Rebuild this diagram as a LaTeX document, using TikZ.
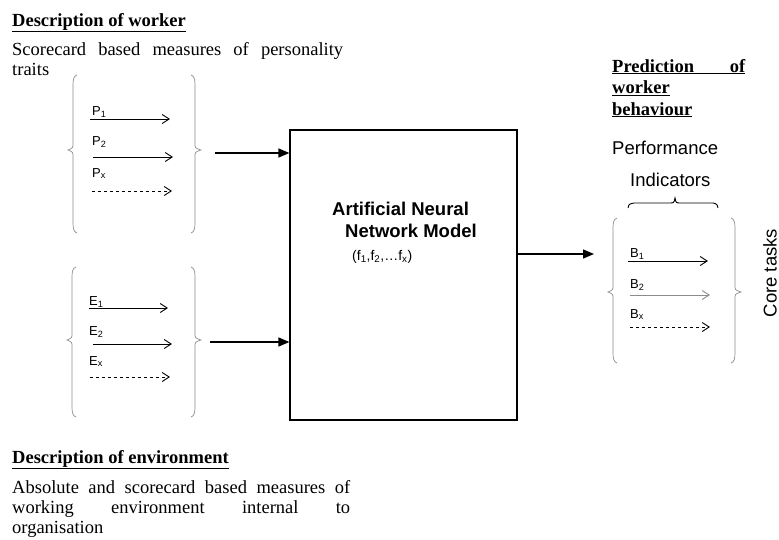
\documentclass[tikz,border=0pt]{standalone}
\usepackage{fontspec}
\setmainfont{Liberation Serif}
\setsansfont{Liberation Sans}
\usetikzlibrary{positioning}
\usetikzlibrary{arrows.meta}
\tikzset{
    every picture/.style={>=Stealth},
    head/.style={anchor=base west,inner sep=0pt,font=\fontsize{18.5}{21.5}\selectfont\bfseries},
    body/.style={anchor=base west,inner sep=0pt,align=left,font=\fontsize{18.5}{20}\selectfont},
    sans/.style={anchor=base west,inner sep=0pt,font=\fontsize{18.5}{21}\selectfont\sffamily},
    lbl/.style={anchor=base west,inner sep=0pt,font=\fontsize{13}{15}\selectfont\sffamily},
    brace/.style={draw=black!45,line width=0.7pt},
    thin arrow/.style={-{Straight Barb[length=7pt,width=9pt]},line width=0.9pt},
    big arrow/.style={-{Triangle[length=11pt,width=9pt]},line width=1.4pt},
}

\begin{document}
\begin{tikzpicture}[x=1pt,y=-1pt]
\useasboundingbox (0,0) rectangle (779,539);

\node[head] (hworker) at (12,26) {\underline{Description of worker}};
\node[body] (tworker) at (12,75) {\makebox[331pt][s]{Scorecard based measures of personality}\\traits};

\node[head] (henv) at (12,463) {\underline{Description of environment}};
\node[body] (tenv) at (12,533) {\makebox[338pt][s]{Absolute and scorecard based measures of}\\
  \makebox[338pt][s]{working environment internal to}\\organisation};

\node[head,align=left] (hpred) at (612,115) {\underline{\makebox[133pt][s]{Prediction of}}\\
  \underline{worker}\\\underline{behaviour}};
\node[sans] (perf) at (612,154) {Performance};
\node[sans] (ind) at (630,186) {Indicators};
\node[sans,anchor=center,rotate=90] (core) at (770,273) {Core tasks};

\node[draw,line width=1.2pt,minimum width=227pt,minimum height=290pt] (ann) at (403.5,275) {};
\node[sans,font=\fontsize{18.5}{21}\selectfont\sffamily\bfseries] (ann1) at (332,215) {Artificial Neural};
\node[sans,font=\fontsize{18.5}{21}\selectfont\sffamily\bfseries] (ann2) at (345,237) {Network Model};
\node[lbl,font=\fontsize{14}{16}\selectfont\sffamily] (ann3) at (352,260) {(f\textsubscript{1},f\textsubscript{2},\dots f\textsubscript{x})};

\foreach \l/\r/\t/\b/\m in {73/195/75/233/150, 72/195/267/417/340, 613/735/218/363/292}{
  \draw[brace] ({\l+4},\t) .. controls ({\l+1},{\t+1}) and (\l,{\t+4}) .. (\l,{\t+10}) -- (\l,{\m-7})
    .. controls (\l,{\m-2}) .. ({\l-5},\m) .. controls (\l,{\m+2}) .. (\l,{\m+7}) -- (\l,{\b-10})
    .. controls (\l,{\b-4}) and ({\l+1},{\b-1}) .. ({\l+4},\b);
  \draw[brace] ({\r-4},\t) .. controls ({\r-1},{\t+1}) and (\r,{\t+4}) .. (\r,{\t+10}) -- (\r,{\m-7})
    .. controls (\r,{\m-2}) .. ({\r+6},\m) .. controls (\r,{\m+2}) .. (\r,{\m+7}) -- (\r,{\b-10})
    .. controls (\r,{\b-4}) and ({\r-1},{\b-1}) .. ({\r-4},\b);
}
\draw[line width=0.9pt] (628,208) .. controls (629,204) .. (634,203) -- (669,203)
  .. controls (674,203) .. (675,198) .. controls (676,203) .. (681,203) -- (713,203)
  .. controls (717,204) .. (718,208);

\foreach \n/\txt/\lx/\ly/\ax/\bx/\ay/\sty in {
    p1/P\textsubscript{1}/92/115/90/170/119/solid,
    p2/P\textsubscript{2}/92/145/93/173/157/solid,
    px/P\textsubscript{x}/92/177/92/172/191/dashed,
    e1/E\textsubscript{1}/89/305/89/168/308/solid,
    e2/E\textsubscript{2}/89/335/93/172/344/solid,
    ex/E\textsubscript{x}/89/365/90/170/377/dashed,
    b1/B\textsubscript{1}/630/257/628/708/261/solid,
    b2/B\textsubscript{2}/630/288/630/710/295/black!45,
    bx/B\textsubscript{x}/630/318/630/710/327/dashed}{
  \node[lbl] (\n) at (\lx,\ly) {\txt};
  \coordinate (\n a) at (\ax,\ay);
  \coordinate (\n b) at (\bx,\ay);
  \draw[thin arrow,\sty] (\n a) -- (\n b);
}

\coordinate (win) at (215,153);
\coordinate (ein) at (210,342);
\coordinate (bout) at (594,254);
\draw[big arrow] (win) -- (win -| ann.west);
\draw[big arrow] (ein) -- (ein -| ann.west);
\draw[big arrow] (bout -| ann.east) -- (bout);

\end{tikzpicture}
\end{document}
